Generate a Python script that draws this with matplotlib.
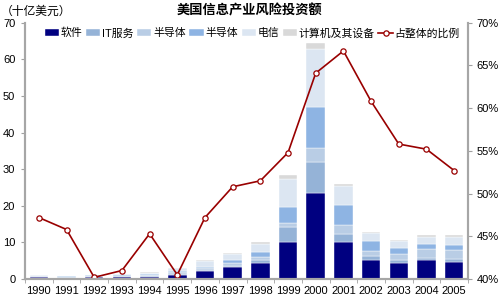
import numpy as np
import matplotlib.pyplot as plt

plt.rcParams['font.family'] = ['Liberation Sans', 'Noto Sans CJK SC']
plt.rcParams['axes.unicode_minus'] = False

years = [str(y) for y in range(1990, 2006)]
# 十亿美元
software = [0.45, 0.4, 0.5, 0.5, 0.6, 1.0, 2.1, 3.2, 4.3, 10.1, 23.6, 10.0, 5.1, 4.3, 5.3, 4.6]
it_service = [0.15, 0.1, 0.15, 0.2, 0.2, 0.4, 0.4, 0.5, 1.0, 4.0, 8.5, 2.3, 1.1, 0.8, 0.5, 1.0]
semi_a = [0.15, 0.1, 0.15, 0.2, 0.2, 0.4, 0.4, 0.6, 0.7, 1.2, 3.8, 2.4, 1.5, 1.8, 2.5, 2.2]
semi_b = [0.15, 0.1, 0.2, 0.25, 0.25, 0.4, 0.5, 0.9, 1.3, 4.4, 11.2, 5.4, 2.6, 1.7, 1.2, 1.4]
telecom = [0.25, 0.15, 0.15, 0.25, 0.5, 0.7, 1.4, 1.6, 2.4, 7.7, 15.7, 5.2, 2.2, 1.8, 2.0, 2.4]
computer = [0.05, 0.05, 0.05, 0.05, 0.05, 0.1, 0.3, 0.4, 0.5, 0.9, 1.6, 0.6, 0.4, 0.3, 0.6, 0.5]
share = [47.2, 45.8, 40.2, 41.0, 45.3, 40.5, 47.2, 50.8, 51.5, 54.8, 64.1, 66.7, 60.8, 55.8, 55.2, 52.7]

series = [
    ('软件', software, '#000080'),
    ('IT服务', it_service, '#95B3D7'),
    ('半导体', semi_a, '#B9CDE5'),
    ('半导体', semi_b, '#8EB4E3'),
    ('电信', telecom, '#DCE6F2'),
    ('计算机及其设备', computer, '#D9D9D9'),
]

fig = plt.figure(figsize=(5, 3.07), dpi=100)
ax = fig.add_axes([0.05, 0.091, 0.886, 0.835])
x = np.arange(len(years))
bottom = np.zeros(len(years))
for name, vals, col in series:
    ax.bar(x, vals, 0.67, bottom=bottom, color=col, label=name,
           edgecolor='white', linewidth=0.3)
    bottom += np.array(vals)

ax.set_xlim(-0.5, len(years) - 0.5)
ax.set_ylim(0, 70)
ax.set_yticks(range(0, 71, 10))
ax.set_xticks(x)
ax.set_xticklabels(years)
ax.set_xticks(np.arange(-0.5, len(years), 1), minor=True)
ax.tick_params(axis='x', which='major', length=0, labelsize=8, pad=5)
ax.tick_params(axis='x', which='minor', length=3, color='#A0A0A0')
ax.tick_params(axis='y', length=3, color='#A0A0A0', labelsize=8, pad=4)

ax2 = ax.twinx()
ax2.plot(x, share, color='#990000', lw=1.2, marker='o', ms=3.8,
         mfc='white', mec='#990000', mew=0.9, label='占整体的比例')
ax2.set_ylim(40, 70)
ax2.set_yticks(range(40, 71, 5))
ax2.set_yticklabels([f'{v}%' for v in range(40, 71, 5)])
ax2.tick_params(axis='y', length=3, color='#A0A0A0', labelsize=8, pad=3)

for a in (ax, ax2):
    a.spines['top'].set_visible(False)
    for s in ('left', 'right', 'bottom'):
        a.spines[s].set_color('#A6A6A6')
        a.spines[s].set_linewidth(1.5)

h1, l1 = ax.get_legend_handles_labels()
h2, l2 = ax2.get_legend_handles_labels()
ax2.legend(h1 + h2, l1 + l2, ncol=7, loc='upper center', bbox_to_anchor=(0.513, 1.005),
           frameon=False, fontsize=7.8, handlelength=1.3, handleheight=0.55,
           handletextpad=0.15, columnspacing=0.35, borderaxespad=0.2)

fig.text(0.002, 0.96, '（十亿美元）', fontsize=8.5, va='center', ha='left')
fig.text(0.5, 0.965, '美国信息产业风险投资额', fontsize=9.5, fontweight='bold',
         va='center', ha='center')

fig.savefig('out.png', dpi=100)
